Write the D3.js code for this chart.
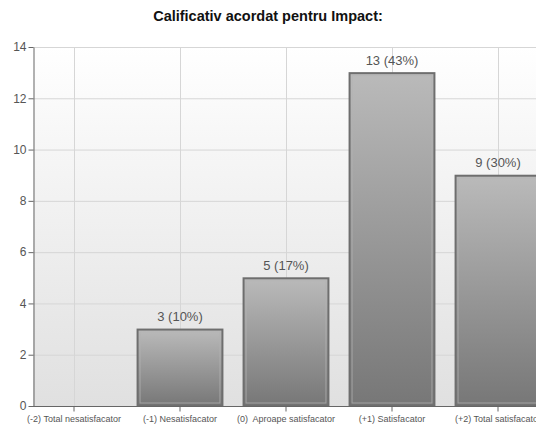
<!DOCTYPE html>
<html>
<head>
<meta charset="utf-8">
<script src="https://cdn.jsdelivr.net/npm/d3@7"></script>
<style>
  html, body { margin: 0; padding: 0; background: #fff; }
  svg { display: block; font-family: "Liberation Sans", Arial, sans-serif; }
</style>
</head>
<body>
<svg id="chart" width="536" height="428"></svg>
<script>
const title = "Calificativ acordat pentru Impact:";
const categories = [
  "(-2) Total nesatisfacator",
  "(-1) Nesatisfacator",
  "(0)  Aproape satisfacator",
  "(+1) Satisfacator",
  "(+2) Total satisfacator"
];
const counts = [0, 3, 5, 13, 9];
const yTicks = [0, 2, 4, 6, 8, 10, 12, 14];

const svg = d3.select("#chart");
const W = 536, H = 428;
const plot = { left: 33, top: 47, bottom: 406, right: 560 };

const total = d3.sum(counts);

const x = d3.scaleBand()
  .domain(categories)
  .range([21, 551])
  .paddingInner(0.19)
  .paddingOuter(0.095);

const y = d3.scaleLinear().domain([0, 14]).range([plot.bottom, plot.top]);

const defs = svg.append("defs");
const bg = defs.append("linearGradient").attr("id", "bg")
  .attr("x1", 0).attr("y1", 0).attr("x2", 0).attr("y2", 1);
bg.append("stop").attr("offset", 0).attr("stop-color", "#ffffff");
bg.append("stop").attr("offset", 1).attr("stop-color", "#e0e0e0");

const barGrad = defs.append("linearGradient").attr("id", "barGrad")
  .attr("x1", 0).attr("y1", 0).attr("x2", 0).attr("y2", 1);
barGrad.append("stop").attr("offset", 0).attr("stop-color", "#bababa");
barGrad.append("stop").attr("offset", 1).attr("stop-color", "#777777");

// Title
svg.append("text")
  .attr("x", W / 2).attr("y", 21)
  .attr("text-anchor", "middle")
  .attr("font-size", 14.5).attr("font-weight", "bold")
  .attr("fill", "#111")
  .text(title);

// Plot background
svg.append("rect")
  .attr("x", plot.left).attr("y", plot.top)
  .attr("width", plot.right - plot.left).attr("height", plot.bottom - plot.top)
  .attr("fill", "url(#bg)");

// Horizontal grid
svg.append("g").selectAll("line")
  .data(yTicks.filter(d => d > 0))
  .join("line")
  .attr("x1", plot.left).attr("x2", plot.right)
  .attr("y1", d => y(d) + 0.5).attr("y2", d => y(d) + 0.5)
  .attr("stroke", "#d6d6d6");

// Vertical grid at category centres
svg.append("g").selectAll("line")
  .data(categories)
  .join("line")
  .attr("x1", d => Math.round(x(d) + x.bandwidth() / 2) + 0.5)
  .attr("x2", d => Math.round(x(d) + x.bandwidth() / 2) + 0.5)
  .attr("y1", plot.top).attr("y2", plot.bottom)
  .attr("stroke", "#d6d6d6");

// Bars
const data = categories.map((c, i) => ({ c, v: counts[i] })).filter(d => d.v > 0);
const bars = svg.append("g");
bars.selectAll("rect.outer")
  .data(data)
  .join("rect").attr("class", "outer")
  .attr("x", d => x(d.c) + 0.5)
  .attr("y", d => y(d.v) + 0.5)
  .attr("width", x.bandwidth() - 1)
  .attr("height", d => y(0) - y(d.v) - 1)
  .attr("fill", "url(#barGrad)")
  .attr("stroke", "#6e6e6e").attr("stroke-width", 2);
bars.selectAll("rect.inner")
  .data(data)
  .join("rect").attr("class", "inner")
  .attr("x", d => x(d.c) + 3)
  .attr("y", d => y(d.v) + 3)
  .attr("width", x.bandwidth() - 6)
  .attr("height", d => Math.max(0, y(0) - y(d.v) - 6))
  .attr("fill", "none")
  .attr("stroke", "#b4b4b4").attr("stroke-width", 1).attr("stroke-opacity", 0.7);

// Value labels
svg.append("g").selectAll("text")
  .data(data)
  .join("text")
  .attr("x", d => x(d.c) + x.bandwidth() / 2)
  .attr("y", d => y(d.v) - 8)
  .attr("text-anchor", "middle")
  .attr("font-size", 13).attr("fill", "#555")
  .text(d => `${d.v} (${Math.round(d.v / total * 100)}%)`);

// Y axis
const yAxis = d3.axisLeft(y).tickValues(yTicks).tickSize(5).tickSizeOuter(0).tickFormat(d3.format("d"));
const gy = svg.append("g").attr("transform", `translate(${plot.left + 0.5},0)`).call(yAxis);
gy.select(".domain").attr("stroke", "#666");
gy.selectAll(".tick line").attr("stroke", "#666");
gy.selectAll(".tick text").attr("font-size", 12).attr("fill", "#555")
  .attr("font-family", "Liberation Sans, Arial, sans-serif").attr("x", -7);

// X axis
const xAxis = d3.axisBottom(x).tickSize(5).tickSizeOuter(0);
const gx = svg.append("g").attr("transform", `translate(0,${plot.bottom + 0.5})`).call(xAxis);
gx.select(".domain").attr("stroke", "#666").attr("d", `M${plot.left},0H${plot.right}`);
gx.selectAll(".tick line").attr("stroke", "#666");
gx.selectAll(".tick text").attr("font-size", 9).attr("fill", "#555")
  .attr("font-family", "Liberation Sans, Arial, sans-serif")
  .attr("y", 9).attr("xml:space", "preserve");
</script>
</body>
</html>
